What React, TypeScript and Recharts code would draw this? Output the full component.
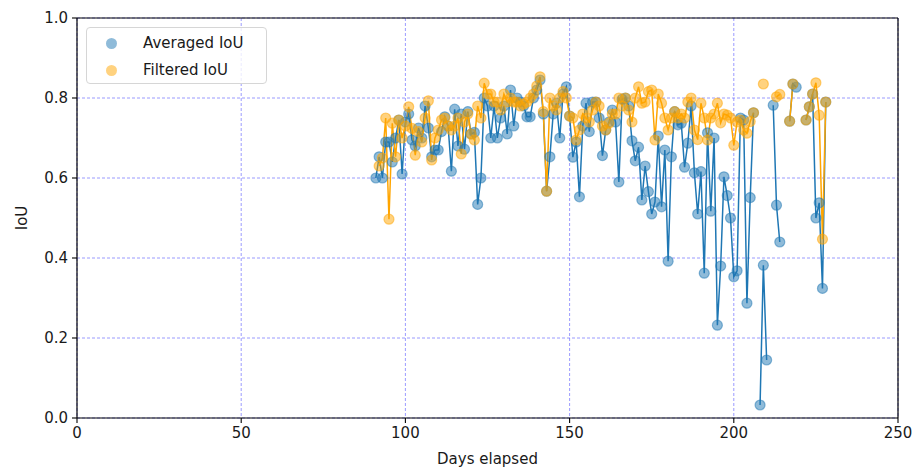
import React from 'react';
import {
    ComposedChart, Line, XAxis, YAxis, CartesianGrid, ReferenceLine
} from 'recharts';

const days = [
    91, 92, 93, 94, 95, 96, 97, 98, 99, 100,
    101, 102, 103, 104, 105, 106, 107, 108, 109, 110,
    111, 112, 113, 114, 115, 116, 117, 118, 119, 120,
    121, 122, 123, 124, 125, 126, 127, 128, 129, 130,
    131, 132, 133, 134, 135, 136, 137, 138, 139, 140,
    141, 142, 143, 144, 145, 146, 147, 148, 149, 150,
    151, 152, 153, 154, 155, 156, 157, 158, 159, 160,
    161, 162, 163, 164, 165, 166, 167, 168, 169, 170,
    171, 172, 173, 174, 175, 176, 177, 178, 179, 180,
    181, 182, 183, 184, 185, 186, 187, 188, 189, 190,
    191, 192, 193, 194, 195, 196, 197, 198, 199, 200,
    201, 202, 203, 204, 205, 206, 207, 208, 209, 210,
    211, 212, 213, 214, 215, 216, 217, 218, 219, 220,
    221, 222, 223, 224, 225, 226, 227, 228
];

const averagedIoU = [
    0.60, 0.653, 0.60, 0.69, 0.69, 0.64, 0.70, 0.745, 0.61, 0.74,
    0.76, 0.695, 0.68, 0.725, 0.70, 0.78, 0.725, 0.653, 0.67, 0.67,
    0.716, 0.753, 0.73, 0.617, 0.772, 0.68, 0.76, 0.672, 0.766, 0.71,
    0.714, 0.534, 0.60, 0.80, 0.78, 0.70, 0.78, 0.70, 0.75, 0.78,
    0.71, 0.82, 0.73, 0.80, 0.79, 0.78, 0.753, 0.753, 0.80, 0.82,
    0.845, 0.76, 0.567, 0.653, 0.76, 0.787, 0.70, 0.81, 0.828, 0.755,
    0.652, 0.69, 0.553, 0.73, 0.787, 0.716, 0.79, 0.79, 0.75, 0.656,
    0.72, 0.74, 0.77, 0.74, 0.59, 0.797, 0.80, 0.78, 0.693, 0.643,
    0.677, 0.545, 0.63, 0.566, 0.51, 0.54, 0.705, 0.528, 0.67, 0.392,
    0.653, 0.766, 0.733, 0.737, 0.627, 0.687, 0.78, 0.613, 0.51, 0.616,
    0.362, 0.713, 0.517, 0.70, 0.232, 0.38, 0.603, 0.556, 0.50, 0.353,
    0.368, 0.75, 0.745, 0.287, 0.551, 0.763, null, 0.0325, 0.382, 0.145,
    null, 0.782, 0.532, 0.44, null, null, 0.742, 0.835, 0.827, null,
    null, 0.745, 0.778, 0.81, 0.50, 0.538, 0.324, 0.79
];

const filteredIoU = [
    null, 0.63, 0.65, 0.75, 0.497, 0.737, 0.653, 0.745, 0.70, 0.73,
    0.778, 0.724, 0.657, 0.716, 0.69, 0.75, 0.793, 0.645, 0.70, 0.72,
    0.745, 0.75, 0.73, 0.72, 0.73, 0.75, 0.66, 0.74, 0.76, 0.71,
    0.695, 0.78, 0.75, 0.837, 0.81, 0.81, 0.79, 0.79, 0.77, 0.81,
    0.79, 0.80, 0.79, 0.79, 0.78, 0.785, 0.79, 0.80, 0.81, 0.83,
    0.853, 0.766, 0.567, 0.80, 0.78, 0.77, 0.80, 0.816, 0.80, 0.755,
    0.75, 0.695, 0.72, 0.76, 0.75, 0.74, 0.77, 0.79, 0.78, 0.73,
    0.72, 0.737, 0.76, 0.76, 0.80, 0.78, 0.80, 0.77, 0.74, 0.80,
    0.828, 0.787, 0.79, 0.816, 0.82, 0.695, 0.81, 0.787, 0.75, 0.72,
    0.75, 0.766, 0.75, 0.76, 0.75, 0.79, 0.80, 0.72, 0.696, 0.787,
    0.75, 0.695, 0.75, 0.76, 0.787, 0.738, 0.76, 0.757, 0.75, 0.682,
    0.74, 0.745, 0.72, 0.712, 0.741, 0.763, null, null, 0.835, null,
    null, null, 0.803, 0.809, null, null, 0.742, 0.835, null, null,
    null, 0.745, 0.778, 0.81, 0.838, 0.757, 0.447, 0.79
];

const xTicks = [0, 50, 100, 150, 200, 250];
const yTicks = [0, 0.2, 0.4, 0.6, 0.8, 1.0];

const BLUE = '#1f77b4';
const ORANGE = '#ffa500';
const FONT = '"DejaVu Sans", sans-serif';

const data = days.map((d, i) => ({ day: d, avg: averagedIoU[i], filt: filteredIoU[i] }));

const legendItems = [
    { label: 'Averaged IoU', color: BLUE },
    { label: 'Filtered IoU', color: ORANGE }
];

function LegendBox() {
    return (
        <div style={{
            position: 'absolute', left: 86, top: 27, width: 179, height: 55,
            border: '1px solid #d6d6d6', borderRadius: 4,
            background: 'rgba(255,255,255,0.8)', fontFamily: FONT, fontSize: 15, color: '#1a1a1a'
        }}>
            {legendItems.map((item, i) => (
                <div key={item.label} style={{ position: 'absolute', left: 0, top: 5 + i * 27, height: 20, display: 'flex', alignItems: 'center' }}>
                    <div style={{
                        marginLeft: 19, width: 11, height: 11, borderRadius: '50%',
                        background: item.color, opacity: 0.5
                    }}></div>
                    <span style={{ marginLeft: 26 }}>{item.label}</span>
                </div>
            ))}
        </div>
    );
}

export default function App() {
    return (
        <div style={{ position: 'absolute', left: 0, top: 0, width: 921, height: 470, background: '#fff' }}>
            <ComposedChart width={921} height={470} data={data} margin={{ top: 18, right: 23, bottom: 0, left: 0 }}>
                <CartesianGrid stroke="#6a6aff" strokeOpacity={0.75} strokeDasharray="3 2" strokeWidth={0.9} />
                <XAxis
                    dataKey="day"
                    type="number"
                    domain={[0, 250]}
                    ticks={xTicks}
                    allowDataOverflow
                    height={52}
                    tickSize={5}
                    tickMargin={4}
                    axisLine={{ stroke: '#000', strokeWidth: 1.2 }}
                    tickLine={{ stroke: '#000', strokeWidth: 1.1 }}
                    tick={{ fill: '#1a1a1a', fontSize: 15, fontFamily: FONT }}
                    label={{ value: 'Days elapsed', position: 'insideBottom', offset: 6, fill: '#1a1a1a', fontSize: 15, fontFamily: FONT }}
                />
                <YAxis
                    type="number"
                    domain={[0, 1]}
                    ticks={yTicks}
                    allowDataOverflow
                    width={77}
                    tickSize={5}
                    tickMargin={4}
                    tickFormatter={(v) => v.toFixed(1)}
                    axisLine={{ stroke: '#000', strokeWidth: 1.2 }}
                    tickLine={{ stroke: '#000', strokeWidth: 1.1 }}
                    tick={{ fill: '#1a1a1a', fontSize: 15, fontFamily: FONT }}
                    label={{ value: 'IoU', angle: -90, position: 'insideLeft', offset: 22, fill: '#1a1a1a', fontSize: 15, fontFamily: FONT, style: { textAnchor: 'middle' } }}
                />
                <ReferenceLine y={1} stroke="#000" strokeWidth={1.2} />
                <ReferenceLine x={250} stroke="#000" strokeWidth={1.2} />
                <Line
                    dataKey="avg"
                    stroke={BLUE}
                    strokeWidth={1.5}
                    dot={{ r: 5, fill: BLUE, fillOpacity: 0.5, stroke: BLUE, strokeOpacity: 0.5, strokeWidth: 1.2 }}
                    activeDot={false}
                    isAnimationActive={false}
                />
                <Line
                    dataKey="filt"
                    stroke={ORANGE}
                    strokeWidth={1.5}
                    dot={{ r: 5, fill: ORANGE, fillOpacity: 0.5, stroke: ORANGE, strokeOpacity: 0.5, strokeWidth: 1.2 }}
                    activeDot={false}
                    isAnimationActive={false}
                />
            </ComposedChart>
            <LegendBox />
        </div>
    );
}
